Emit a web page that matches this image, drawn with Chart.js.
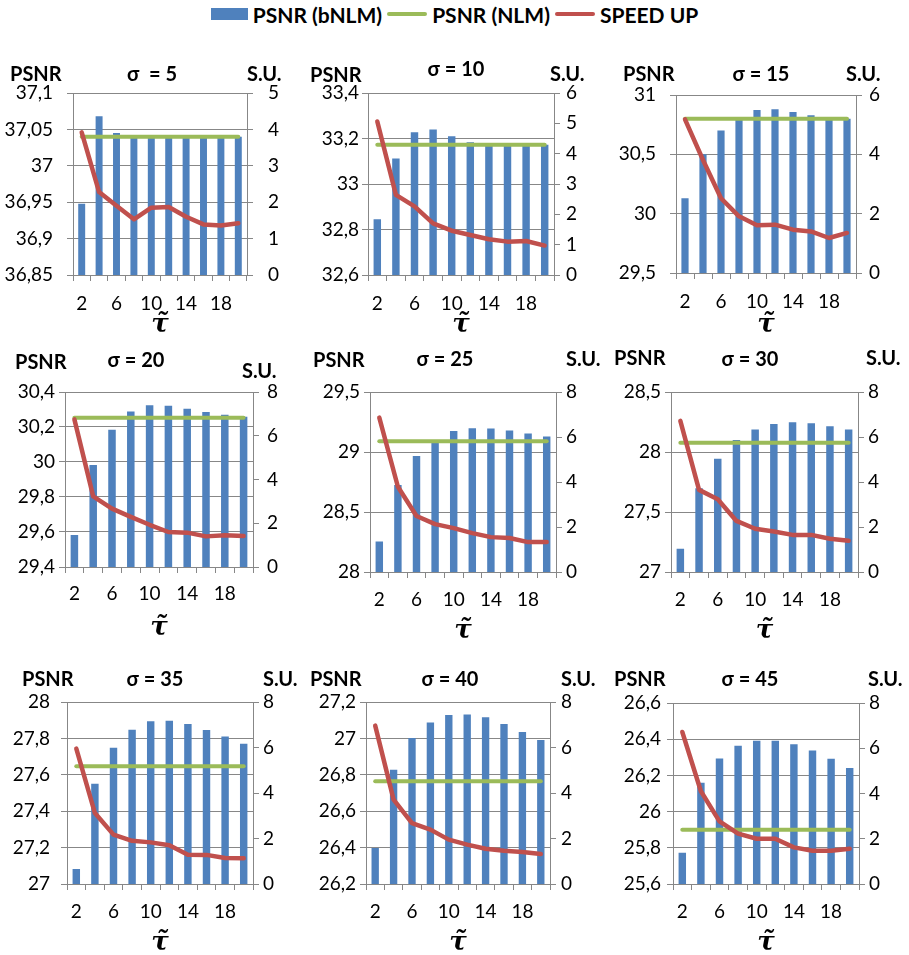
<!DOCTYPE html>
<html>
<head>
<meta charset="utf-8">
<script src="https://cdn.jsdelivr.net/npm/chart.js@4.4.0/dist/chart.umd.min.js"></script>
<style>
  body { margin: 0; background: #fff; width: 909px; height: 955px; position: relative; overflow: hidden; }
  #legend { position: absolute; top: 3px; left: 0; width: 909px; height: 22px; display: flex; justify-content: center; align-items: center;
    font: bold 21px Lato, "Liberation Sans", sans-serif; color: #000; }
  #legend .box { width: 37px; height: 12px; background: #4f81bd; margin-right: 5px; }
  #legend .ln { width: 40px; height: 4px; border-radius: 2px; margin: 0 5px; }
  canvas { position: absolute; }
</style>
</head>
<body>
<div id="legend">
  <span class="box"></span><span>PSNR (bNLM)</span>
  <span class="ln" style="background:#9bbb59"></span><span>PSNR (NLM)</span>
  <span class="ln" style="background:#c0504d"></span><span>SPEED UP</span>
</div>
<script>
// Valeurs
const tauValues = [2, 4, 6, 8, 10, 12, 14, 16, 18, 20];
const sigmaLabels = ["σ  = 5", "σ = 10", "σ = 15", "σ = 20", "σ = 25", "σ = 30", "σ = 35", "σ = 40", "σ = 45"];

const bnlm5 = [36.948, 37.068, 37.045, 37.04, 37.04, 37.04, 37.04, 37.04, 37.04, 37.04];
const bnlm10 = [32.845, 33.112, 33.228, 33.24, 33.21, 33.184, 33.172, 33.172, 33.172, 33.172];
const bnlm15 = [30.13, 30.5, 30.7, 30.8, 30.874, 30.88, 30.857, 30.83, 30.81, 30.8];
const bnlm20 = [29.583, 29.983, 30.185, 30.288, 30.324, 30.322, 30.305, 30.286, 30.27, 30.259];
const bnlm25 = [28.255, 28.725, 28.966, 29.1, 29.176, 29.198, 29.196, 29.18, 29.154, 29.13];
const bnlm30 = [27.194, 27.697, 27.944, 28.099, 28.187, 28.234, 28.248, 28.24, 28.215, 28.187];
const bnlm35 = [27.082, 27.551, 27.749, 27.848, 27.894, 27.897, 27.879, 27.846, 27.81, 27.771];
const bnlm40 = [26.398, 26.828, 27.002, 27.088, 27.129, 27.132, 27.116, 27.079, 27.035, 26.991];
const bnlm45 = [25.773, 26.16, 26.294, 26.364, 26.392, 26.392, 26.372, 26.337, 26.292, 26.241];

const nlmPsnr = [37.04, 33.172, 30.8, 30.253, 29.09, 28.077, 27.647, 26.764, 25.9];

const speed5 = [3.92, 2.28, 1.9, 1.53, 1.85, 1.87, 1.6, 1.39, 1.36, 1.42];
const speed10 = [5.06, 2.64, 2.26, 1.7, 1.46, 1.32, 1.18, 1.1, 1.12, 0.97];
const speed15 = [5.18, 3.81, 2.52, 1.91, 1.61, 1.63, 1.46, 1.4, 1.18, 1.35];
const speed20 = [6.75, 3.23, 2.67, 2.29, 1.93, 1.6, 1.57, 1.4, 1.45, 1.42];
const speed25 = [6.86, 3.79, 2.49, 2.13, 1.95, 1.73, 1.55, 1.51, 1.33, 1.33];
const speed30 = [6.72, 3.65, 3.23, 2.27, 1.92, 1.8, 1.65, 1.65, 1.48, 1.39];
const speed35 = [5.95, 3.12, 2.17, 1.9, 1.83, 1.7, 1.29, 1.28, 1.14, 1.13];
const speed40 = [6.96, 3.71, 2.68, 2.39, 1.95, 1.73, 1.55, 1.46, 1.41, 1.32];
const speed45 = [6.72, 4.1, 2.77, 2.23, 2.0, 2.0, 1.62, 1.47, 1.47, 1.56];

// Graduations des axes
const psnrTicks5 = [36.85, 36.9, 36.95, 37, 37.05, 37.1];
const psnrTicks10 = [32.6, 32.8, 33, 33.2, 33.4];
const psnrTicks15 = [29.5, 30, 30.5, 31];
const psnrTicks20 = [29.4, 29.6, 29.8, 30, 30.2, 30.4];
const psnrTicks25 = [28, 28.5, 29, 29.5];
const psnrTicks30 = [27, 27.5, 28, 28.5];
const psnrTicks35 = [27, 27.2, 27.4, 27.6, 27.8, 28];
const psnrTicks40 = [26.2, 26.4, 26.6, 26.8, 27, 27.2];
const psnrTicks45 = [25.6, 25.8, 26, 26.2, 26.4, 26.6];
const suTicks5 = [0, 1, 2, 3, 4, 5];
const suTicks6 = [0, 1, 2, 3, 4, 5, 6];
const suTicks6b = [0, 2, 4, 6];
const suTicks8 = [0, 2, 4, 6, 8];

const panels = [
  { bnlm: bnlm5, speed: speed5, ticks: psnrTicks5, su: suTicks5 },
  { bnlm: bnlm10, speed: speed10, ticks: psnrTicks10, su: suTicks6 },
  { bnlm: bnlm15, speed: speed15, ticks: psnrTicks15, su: suTicks6b },
  { bnlm: bnlm20, speed: speed20, ticks: psnrTicks20, su: suTicks8 },
  { bnlm: bnlm25, speed: speed25, ticks: psnrTicks25, su: suTicks8 },
  { bnlm: bnlm30, speed: speed30, ticks: psnrTicks30, su: suTicks8 },
  { bnlm: bnlm35, speed: speed35, ticks: psnrTicks35, su: suTicks8 },
  { bnlm: bnlm40, speed: speed40, ticks: psnrTicks40, su: suTicks8 },
  { bnlm: bnlm45, speed: speed45, ticks: psnrTicks45, su: suTicks8 },
];

// Mise en page de chaque graphique (zone de tracé + textes, en px de la page)
const layout = [
  { L: 73, T: 93, R: 247, B: 275, lg: 20, rg: 21, xp: 11, psnr: [10, 75], sig: [152, 75], su: [247, 75], tau: 50 },
  { L: 368, T: 93, R: 554, B: 275, lg: 9, rg: 12, xp: 11, psnr: [310, 76], sig: [456, 70], su: [550, 75], tau: 50 },
  { L: 676, T: 95, R: 856, B: 273, lg: 20, rg: 13, xp: 11, psnr: [623, 75], sig: [761, 75], su: [846, 75], tau: 52 },
  { L: 65, T: 392, R: 253, B: 567, lg: 10, rg: 14, xp: 9, psnr: [15, 363], sig: [136, 361], su: [242, 372], tau: 61 },
  { L: 370, T: 392, R: 556, B: 572, lg: 10, rg: 10, xp: 10, psnr: [313, 361], sig: [445, 360], su: [566, 360], tau: 59 },
  { L: 671, T: 392, R: 858, B: 572, lg: 10, rg: 10, xp: 10, psnr: [614, 359], sig: [750, 360], su: [866, 359], tau: 59 },
  { L: 67, T: 702, R: 253, B: 884, lg: 17, rg: 10, xp: 10, psnr: [22, 680], sig: [155, 680], su: [263, 680], tau: 59 },
  { L: 366, T: 702, R: 550, B: 884, lg: 10, rg: 11, xp: 10, psnr: [310, 680], sig: [450, 680], su: [561, 680], tau: 59 },
  { L: 673, T: 703, R: 859, B: 884, lg: 12, rg: 10, xp: 10, psnr: [614, 680], sig: [750, 680], su: [868, 680], tau: 59 },
];

const FONT = 'Lato, "Liberation Sans", "DejaVu Sans", sans-serif';
const GRID = '#878787';
const PAD_X = 75, PAD_TOP = 45, PAD_BOTTOM = 90;

function fmt(v) {
  return String(+v.toFixed(3)).replace('.', ',');
}

// Plugin pour les titres "PSNR", "S.U.", sigma et tau
const panelText = {
  id: 'panelText',
  afterDraw(chart, args, opts) {
    const ctx = chart.ctx;
    const a = chart.chartArea;
    ctx.save();
    ctx.fillStyle = '#000';
    ctx.textBaseline = 'middle';
    ctx.font = 'bold 20px ' + FONT;
    ctx.textAlign = 'left';
    ctx.fillText('PSNR', opts.psnr[0] - opts.ox, opts.psnr[1] - opts.oy);
    ctx.fillText('S.U.', opts.su[0] - opts.ox, opts.su[1] - opts.oy);
    ctx.textAlign = 'center';
    ctx.fillText(opts.title, opts.sig[0] - opts.ox, opts.sig[1] - opts.oy);
    ctx.font = 'bold italic 26px "DejaVu Serif", serif';
    ctx.fillText('τ\u0303', (a.left + a.right) / 2, a.bottom + opts.tau);
    ctx.restore();
  }
};

function makePanel(i) {
  const p = panels[i];
  const lay = layout[i];
  const ox = lay.L - PAD_X, oy = lay.T - PAD_TOP;
  const canvas = document.createElement('canvas');
  canvas.width = lay.R - lay.L + 2 * PAD_X;
  canvas.height = lay.B - lay.T + PAD_TOP + PAD_BOTTOM;
  canvas.style.left = ox + 'px';
  canvas.style.top = oy + 'px';
  document.body.append(canvas);

  new Chart(canvas, {
    type: 'bar',
    data: {
      labels: tauValues,
      datasets: [
        { type: 'line', label: 'SPEED UP', data: p.speed, yAxisID: 'y1', borderColor: '#c0504d', borderWidth: 4.5,
          pointRadius: 0, tension: 0, borderCapStyle: 'round', borderJoinStyle: 'round', order: 0 },
        { type: 'line', label: 'PSNR (NLM)', data: tauValues.map(() => nlmPsnr[i]), yAxisID: 'y', borderColor: '#9bbb59',
          borderWidth: 4, pointRadius: 0, borderCapStyle: 'round', order: 1 },
        { type: 'bar', label: 'PSNR (bNLM)', data: p.bnlm, yAxisID: 'y', backgroundColor: '#4f81bd',
          barPercentage: 0.4, categoryPercentage: 1, order: 2 },
      ],
    },
    options: {
      responsive: false,
      animation: false,
      layout: { padding: { top: PAD_TOP, left: 0, right: 0, bottom: 0 } },
      plugins: {
        legend: { display: false },
        tooltip: { enabled: false },
        panelText: { ox, oy, psnr: lay.psnr, su: lay.su, sig: lay.sig, tau: lay.tau, title: sigmaLabels[i] },
      },
      scales: {
        x: {
          offset: true,
          grid: { drawOnChartArea: false, tickLength: 6, color: GRID, offset: true },
          border: { color: GRID },
          ticks: {
            autoSkip: false, maxRotation: 0, padding: lay.xp, color: '#000', font: { family: FONT, size: 19 },
            callback(v, idx) { return idx % 2 === 0 ? this.getLabelForValue(v) : ''; },
          },
          afterFit(s) { s.height = PAD_BOTTOM; },
        },
        y: {
          position: 'left',
          min: p.ticks[0], max: p.ticks[p.ticks.length - 1],
          afterBuildTicks(s) { s.ticks = p.ticks.map((v) => ({ value: v })); },
          grid: { color: GRID, tickLength: 6 },
          border: { color: GRID },
          ticks: { padding: lay.lg - 6, color: '#000', font: { family: FONT, size: 19 }, callback: (v) => fmt(v) },
          afterFit(s) { s.width = PAD_X; },
        },
        y1: {
          position: 'right',
          min: 0, max: p.su[p.su.length - 1],
          afterBuildTicks(s) { s.ticks = p.su.map((v) => ({ value: v })); },
          grid: { drawOnChartArea: false, color: GRID, tickLength: 6 },
          border: { color: GRID },
          ticks: { padding: lay.rg - 6, color: '#000', font: { family: FONT, size: 19 }, callback: (v) => fmt(v) },
          afterFit(s) { s.width = PAD_X; },
        },
      },
    },
    plugins: [panelText],
  });
}

document.addEventListener('DOMContentLoaded', () => {
  panels.forEach((p, i) => makePanel(i));
});
</script>
</body>
</html>
